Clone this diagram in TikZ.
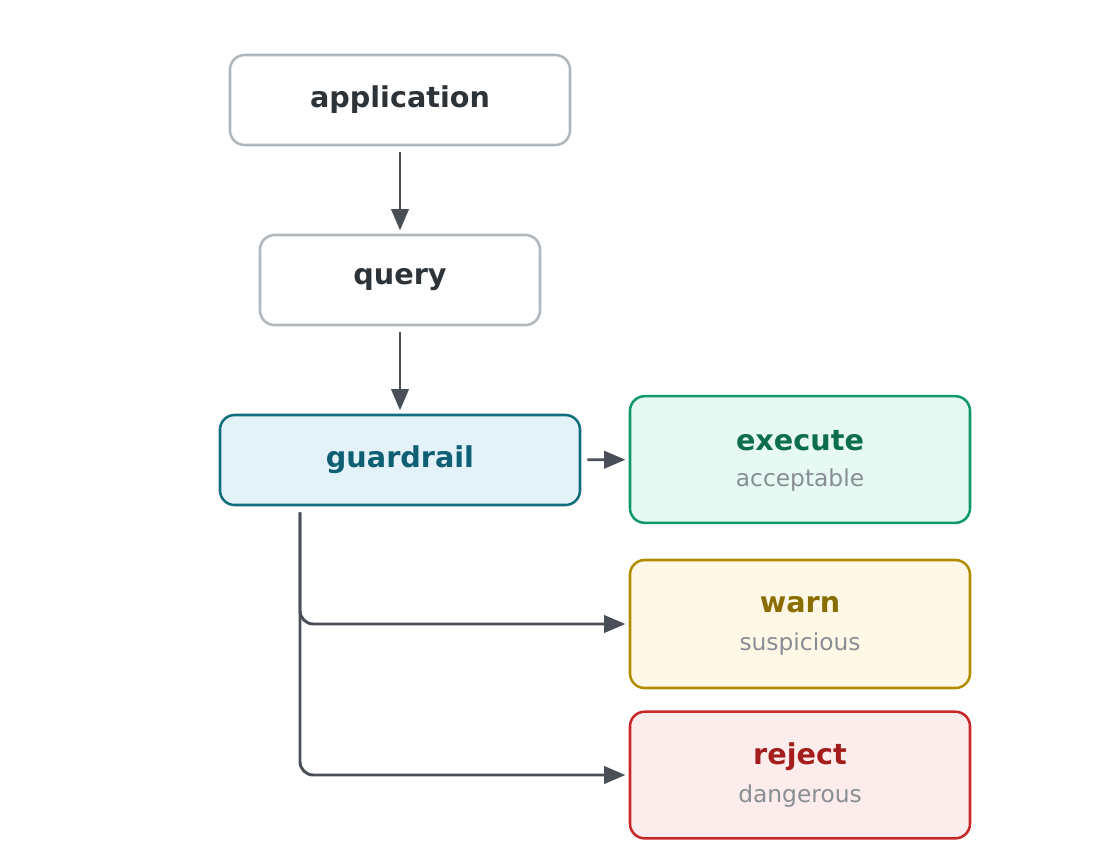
\documentclass[tikz,border=0pt]{standalone}
\usepackage{fontspec}
\setmainfont{DejaVu Sans}
\usetikzlibrary{arrows.meta,calc}
\definecolor{pbord}{HTML}{B0B6BD}\definecolor{ptext}{HTML}{2E3338}\definecolor{arr}{HTML}{4A4F57}
\definecolor{gbord}{HTML}{0E6E7E}\definecolor{gfill}{HTML}{E3F2F9}\definecolor{gtext}{HTML}{0E5F73}
\definecolor{ebord}{HTML}{119966}\definecolor{efill}{HTML}{E6F9F3}\definecolor{etext}{HTML}{0C6E4C}
\definecolor{wbord}{HTML}{B08D00}\definecolor{wfill}{HTML}{FFF8E6}\definecolor{wtext}{HTML}{8A6D00}
\definecolor{rbord}{HTML}{C62828}\definecolor{rfill}{HTML}{FDECEC}\definecolor{rtext}{HTML}{A51C1C}
\definecolor{subc}{HTML}{888E94}
\begin{document}
\begin{tikzpicture}[x=0.75pt,y=-0.75pt,
  box/.style={draw,line width=1.9pt,rounded corners=11pt,inner sep=0pt,align=center},
  plain/.style={box,draw=pbord,fill=white,text=ptext,font=\bfseries\fontsize{21.5}{24}\selectfont},
  conn/.style={draw=arr,line width=2.2pt,-{Triangle[length=16pt,width=13pt]},rounded corners=10pt,shorten <=4.5pt,shorten >=2.5pt},
  ttl/.style={font=\bfseries\fontsize{21.5}{24}\selectfont},
  sub/.style={font=\fontsize{17.5}{20}\selectfont,text=subc}]
\useasboundingbox (0,0) rectangle (1120,840);
\node[plain,minimum width=255pt,minimum height=67.5pt] (app) at (400,100) {application};
\node[plain,minimum width=210pt,minimum height=67.5pt] (query) at (400,280) {query};
\node[box,draw=gbord,fill=gfill,text=gtext,font=\bfseries\fontsize{21.5}{24}\selectfont,minimum width=270pt,minimum height=67.5pt] (guard) at (400,460) {guardrail};
\node[box,draw=ebord,fill=efill,minimum width=255pt,minimum height=95pt] (exec) at (800,459.5) {};
\node[ttl,text=etext] at (800,441) {execute};
\node[sub] at (800,480) {acceptable};
\node[box,draw=wbord,fill=wfill,minimum width=255pt,minimum height=96pt] (warn) at (800,624) {};
\node[ttl,text=wtext] at (800,605) {warn};
\node[sub] at (800,644) {suspicious};
\node[box,draw=rbord,fill=rfill,minimum width=255pt,minimum height=95pt] (rej) at (800,775) {};
\node[ttl,text=rtext] at (800,757) {reject};
\node[sub] at (800,796) {dangerous};
\draw[conn] (app) -- (query);
\draw[conn] (query) -- (guard);
\draw[conn] (guard) -- (exec);
\coordinate (g1) at ($(guard.south)+(-75pt,0)$);
\draw[conn] (g1) |- (warn.west);
\draw[conn] (g1) |- (rej.west);
\end{tikzpicture}
\end{document}
